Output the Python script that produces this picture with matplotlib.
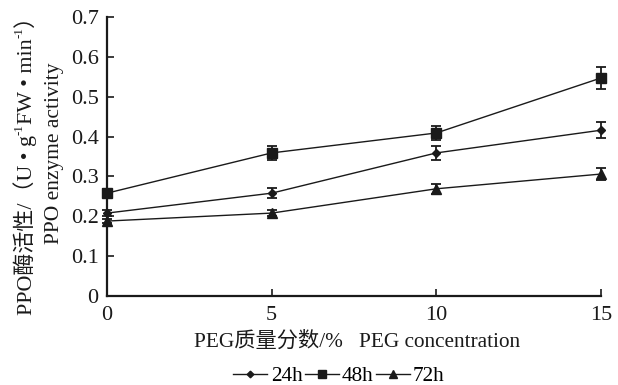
import matplotlib
matplotlib.use("Agg")
import matplotlib.pyplot as plt
from matplotlib.lines import Line2D

plt.rcParams['font.family'] = ['Liberation Serif', 'Noto Sans CJK SC']

# PEG concentration (%) and PPO activity at three sampling times
peg = [0, 5, 10, 15]
xticks = [0, 5, 10, 15]
yticks = [0, 0.1, 0.2, 0.3, 0.4, 0.5, 0.6, 0.7]

act_24h = [0.208, 0.258, 0.359, 0.416]
err_24h = [0.008, 0.012, 0.018, 0.020]
act_48h = [0.258, 0.359, 0.409, 0.547]
err_48h = [0.010, 0.017, 0.018, 0.027]
act_72h = [0.188, 0.208, 0.269, 0.306]
err_72h = [0.005, 0.007, 0.012, 0.016]

labels = ['24h', '48h', '72h']

INK = '#1a1a1a'
W, H = 618, 385
fig = plt.figure(figsize=(W / 100, H / 100), dpi=100)
ax = fig.add_axes([107 / W, 1 - 296 / H, (601 - 107) / W, (296 - 17) / H])

styles = [
    (act_24h, err_24h, 'D', 4.5),
    (act_48h, err_48h, 's', 7),
    (act_72h, err_72h, '^', 7),
]
handles = []
for (vals, errs, mk, ms), lab in zip(styles, labels):
    ax.errorbar(peg, vals, yerr=errs, color=INK, lw=1.0, marker=mk,
                markersize=ms, capsize=3.5, elinewidth=1.3, capthick=1.3,
                clip_on=False, zorder=3)
    handles.append(Line2D([], [], color=INK, lw=1.0, marker=mk,
                          markersize=ms * 0.75, label=lab))

ax.set_xlim(0, 15)
ax.set_ylim(0, 0.7)
ax.set_xticks(xticks)
ax.set_yticks(yticks)
ax.set_yticklabels(['0'] + [f'{v:.1f}' for v in yticks[1:]])
ax.spines['top'].set_visible(False)
ax.spines['right'].set_visible(False)
for s in ('left', 'bottom'):
    ax.spines[s].set_linewidth(1.6)
    ax.spines[s].set_color(INK)
ax.tick_params(axis='both', direction='in', length=5, width=1.2,
               labelsize=16, colors=INK)
ax.tick_params(axis='x', pad=7)
ax.tick_params(axis='y', pad=6)

fig.text(357 / W, 1 - 342 / H, 'PEG质量分数/%   PEG concentration',
         ha='center', va='center', fontsize=15.3, color=INK)

fig.legend(handles=handles, loc='center', bbox_to_anchor=(339 / W, 1 - 376 / H),
           ncol=3, frameon=False, fontsize=15.3, handlelength=1.6,
           handletextpad=0.15, columnspacing=0.1, borderaxespad=0)

# second line of the y label
fig.text(55 / W, 1 - 153 / H, 'PPO enzyme activity', rotation=90,
         ha='center', va='center', fontsize=15.5, color=INK)

# first line of the y label, assembled from pieces so that the
# superscripts and the CJK characters render side by side
fig.canvas.draw()
renderer = fig.canvas.get_renderer()
fs = 15.8
pieces = [('PPO酶活性/（U • g', False), ('-1', True), ('FW • min', False),
          ('-1', True), ('）', False)]
objs = []
for txt, sup in pieces:
    t = fig.text(0, 0, txt, rotation=90, rotation_mode='anchor', ha='left',
                 va='baseline', fontsize=fs * 0.6 if sup else fs,
                 color=INK, transform=None)
    objs.append((t, sup))
fig.canvas.draw()
lengths = [t.get_window_extent(renderer).height for t, _ in objs]
total = sum(lengths)
x_base = 32
y_center = H - 160
y = y_center - total / 2
for (t, sup), ln in zip(objs, lengths):
    xb = x_base - (fs * 100 / 72 * 0.45 if sup else 0)
    t.set_position((xb, y))
    y += ln

fig.savefig('out.png', dpi=100)
